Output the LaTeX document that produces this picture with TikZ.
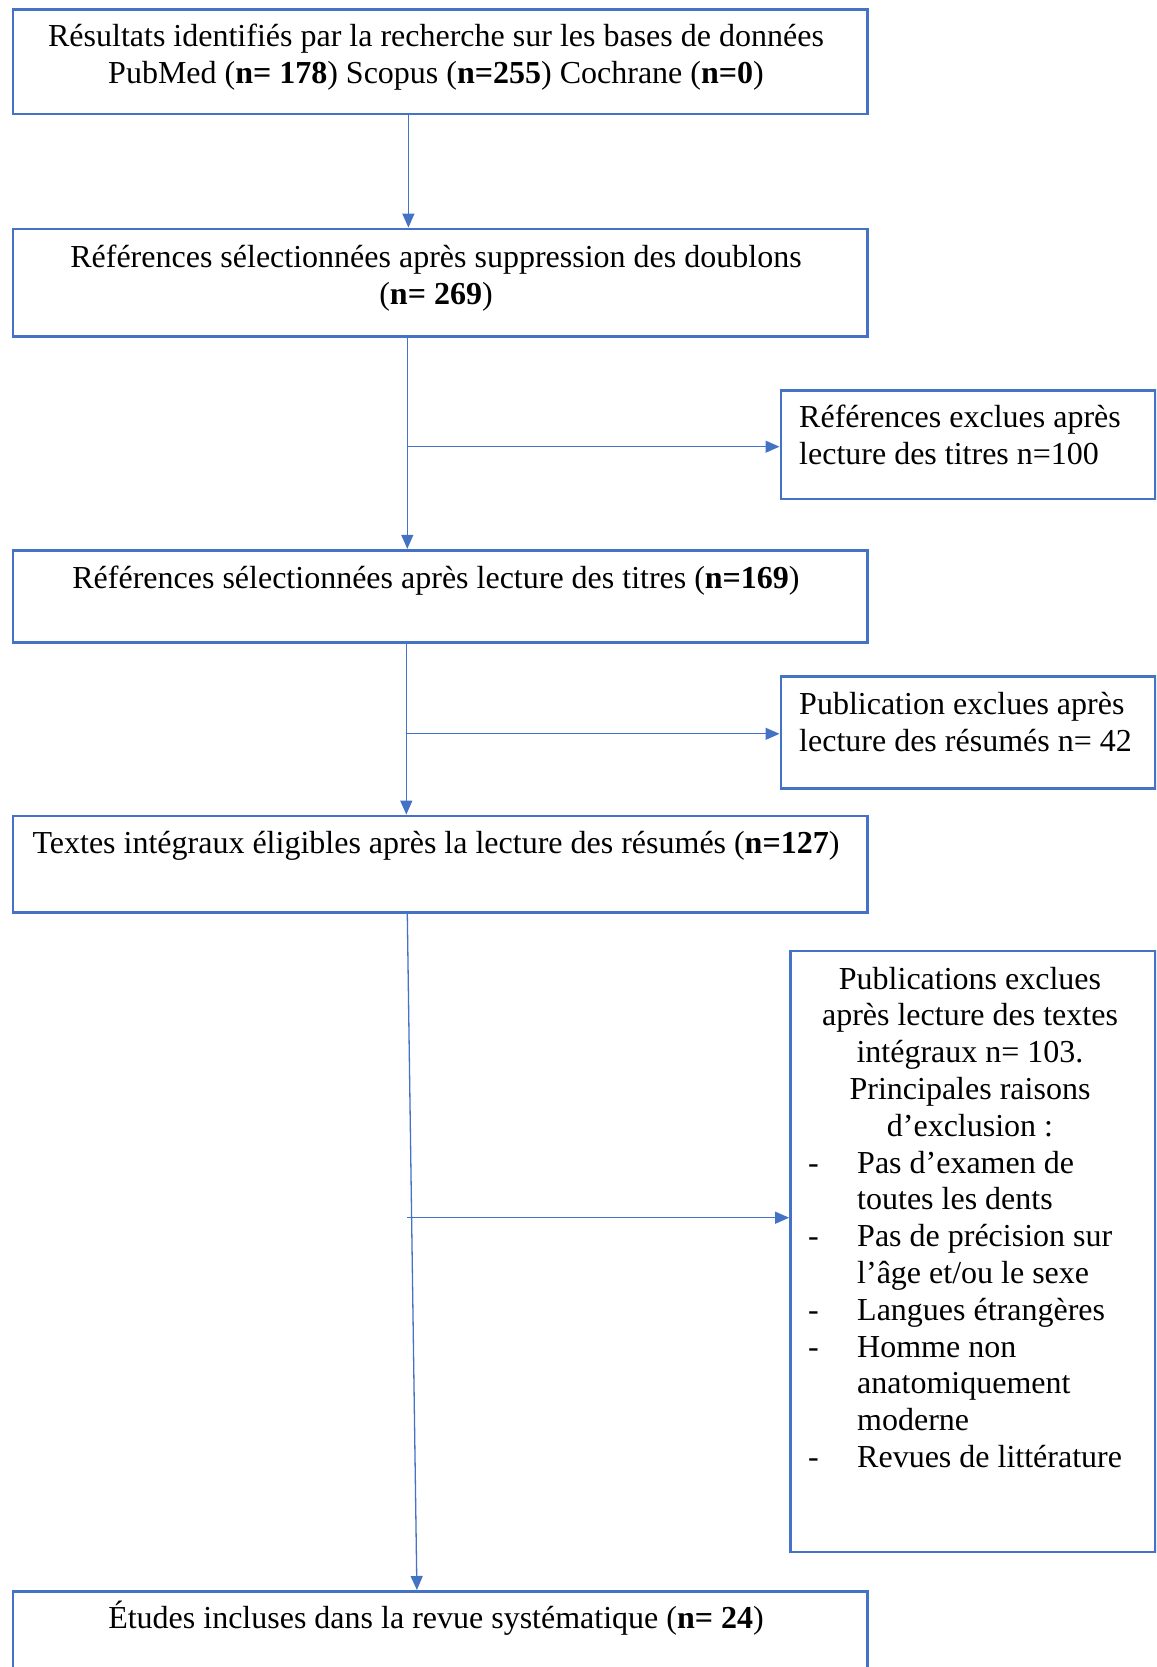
\documentclass[tikz,border=0pt]{standalone}
\usepackage{fontspec}
\setmainfont{Liberation Serif}
\usetikzlibrary{arrows.meta}
\definecolor{bl}{HTML}{4472C4}
\begin{document}
\begin{tikzpicture}[x=1pt,y=-1pt,
 box/.style={draw=bl, line width=2.7pt, rectangle, inner sep=0pt, anchor=north west},
 txt/.style={inner sep=0pt, anchor=base, font=\fontsize{32}{36.8}\selectfont},
 txl/.style={txt, anchor=base west},
 arr/.style={draw=bl, line width=1.3pt, -{Triangle[length=14pt,width=12pt]}}]
\path[use as bounding box] (0,0) rectangle (1156,1667);
\clip (0,0) rectangle (1156,1667);
% boxes
\node[box, minimum width=854.3pt, minimum height=104.2pt] (b1) at (11.7,8.5) {};
\node[box, minimum width=854.3pt, minimum height=107.4pt] (b2) at (11.7,227.6) {};
\node[box, minimum width=374.5pt, minimum height=108.5pt] (b3) at (779.5,389.2) {};
\node[box, minimum width=854.3pt, minimum height=92.5pt] (b4) at (11.7,548.8) {};
\node[box, minimum width=374.5pt, minimum height=111.7pt] (b5) at (779.5,675.3) {};
\node[box, minimum width=854.3pt, minimum height=96.8pt] (b6) at (11.7,814.6) {};
\node[box, minimum width=364.9pt, minimum height=600.9pt] (b7) at (789.1,949.7) {};
\node[box, minimum width=854.3pt, minimum height=130pt] (b8) at (11.7,1590) {};
% texts
\node[txt] (t1a) at (436,47) {Résultats identifiés par la recherche sur les bases de données};
\node[txt] (t1b) at (436,84) {PubMed (\textbf{n= 178}) Scopus (\textbf{n=255}) Cochrane (\textbf{n=0})};
\node[txt] (t2a) at (436,267) {Références sélectionnées après suppression des doublons};
\node[txt] (t2b) at (436,304) {(\textbf{n= 269})};
\node[txl] (t3a) at (799,427.5) {Références exclues après};
\node[txl] (t3b) at (799,464.5) {lecture des titres n=100};
\node[txt] (t4) at (436,588) {Références sélectionnées après lecture des titres (\textbf{n=169})};
\node[txl] (t5a) at (799,714.5) {Publication exclues après};
\node[txl] (t5b) at (799,751) {lecture des résumés n= 42};
\node[txt] (t6) at (436,853) {Textes intégraux éligibles après la lecture des résumés (\textbf{n=127})};
\node[txt] (t7a) at (970,989) {Publications exclues};
\node[txt] (t7b) at (970,1025.8) {après lecture des textes};
\node[txt] (t7c) at (970,1062.6) {intégraux n= 103.};
\node[txt] (t7d) at (970,1099.4) {Principales raisons};
\node[txt] (t7e) at (970,1136.2) {d’exclusion :};
\node[txl] (d7a) at (808,1173) {-};
\node[txl] (t7f) at (857,1173) {Pas d’examen de};
\node[txl] (t7g) at (857,1209.8) {toutes les dents};
\node[txl] (d7b) at (808,1246.6) {-};
\node[txl] (t7h) at (857,1246.6) {Pas de précision sur};
\node[txl] (t7i) at (857,1283.4) {l’âge et/ou le sexe};
\node[txl] (d7c) at (808,1320.2) {-};
\node[txl] (t7j) at (857,1320.2) {Langues étrangères};
\node[txl] (d7d) at (808,1357) {-};
\node[txl] (t7k) at (857,1357) {Homme non};
\node[txl] (t7l) at (857,1393.8) {anatomiquement};
\node[txl] (t7m) at (857,1430.6) {moderne};
\node[txl] (d7e) at (808,1467.4) {-};
\node[txl] (t7n) at (857,1467.4) {Revues de littérature};
\node[txt] (t8) at (436,1628) {Études incluses dans la revue systématique (\textbf{n= 24})};
% connectors
\coordinate (xa) at (408.4,0);
\coordinate (xb) at (407.3,0);
\coordinate (xc) at (406.3,0);
\coordinate (xd1) at (407.3,0);
\coordinate (xd2) at (416.9,0);
\draw[arr] (b1.south -| xa) -- (b2.north -| xa);
\draw[arr] (b2.south -| xb) -- (b4.north -| xb);
\coordinate (j1) at (407.3,446.7);
\draw[arr] (j1) -- (j1 -| b3.west);
\draw[arr] (b4.south -| xc) -- (b6.north -| xc);
\coordinate (j2) at (406.3,733.8);
\draw[arr] (j2) -- (j2 -| b5.west);
\draw[arr] (b6.south -| xd1) -- (b8.north -| xd2);
\coordinate (j3) at (407.3,1217.7);
\draw[arr] (j3) -- (j3 -| b7.west);
\end{tikzpicture}
\end{document}
